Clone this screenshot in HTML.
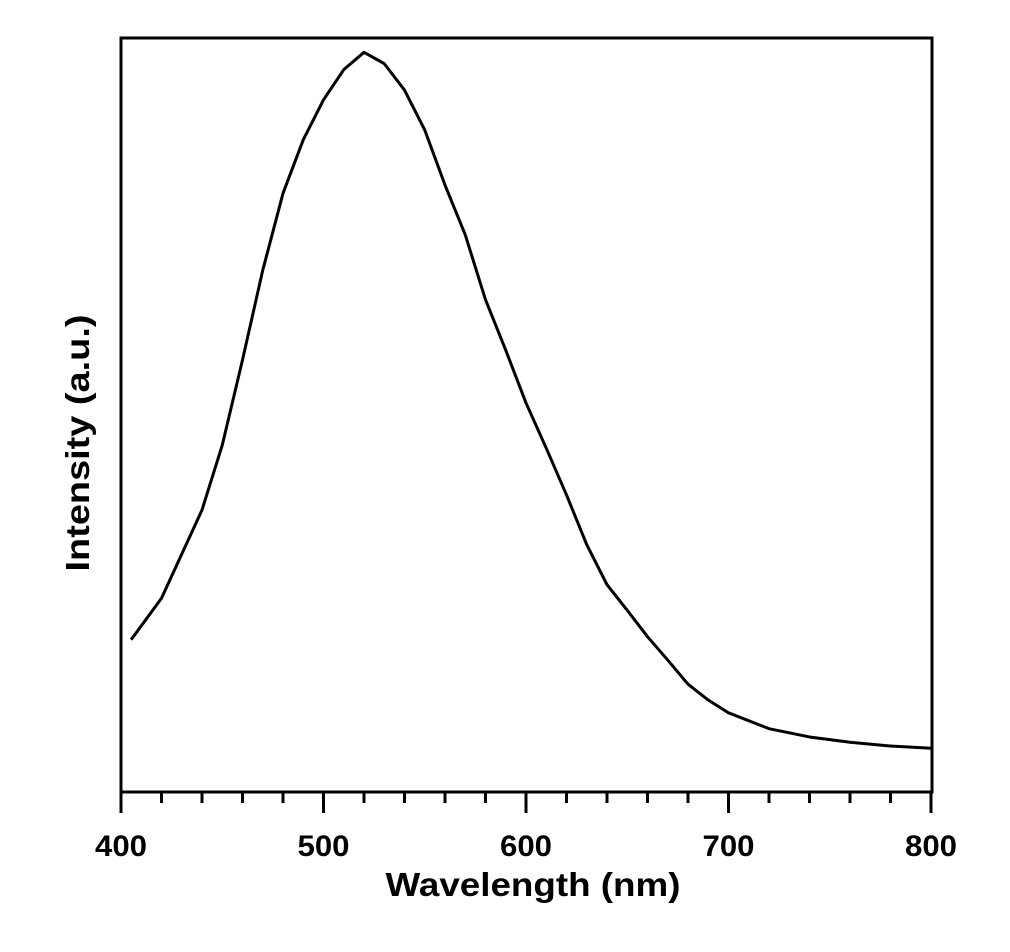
<!DOCTYPE html>
<html><head><meta charset="utf-8"><style>
html,body{margin:0;padding:0;background:#fff;}
svg{display:block;font-family:"Liberation Sans",Arial,sans-serif;font-weight:bold;}
</style></head><body>
<svg id="chart" width="1010" height="952" viewBox="0 0 1010 952" xmlns="http://www.w3.org/2000/svg">
<rect x="121" y="38" width="811" height="754" fill="none" stroke="#000" stroke-width="3"/>
<g id="ticks"></g>
<g id="labels"></g>
<polyline id="curve" fill="none" stroke="#000" stroke-width="3" stroke-linejoin="round"/>
<text x="533" y="896" font-size="33" text-anchor="middle" textLength="295" lengthAdjust="spacingAndGlyphs">Wavelength (nm)</text>
<text transform="translate(89,443) rotate(-90)" font-size="33" text-anchor="middle" textLength="257" lengthAdjust="spacingAndGlyphs">Intensity (a.u.)</text>
</svg>
<script>
const wavelengths=[405,420,440,450,460,470,480,490,500,510,520,530,540,550,560,570,580,590,600,610,620,630,640,650,660,670,680,690,700,720,740,760,780,800];
const intensity=[20.2,25.7,37.4,46.0,57.3,69.2,79.4,86.5,91.8,95.8,98.1,96.6,93.1,87.8,80.5,73.9,65.3,58.6,51.6,45.6,39.4,32.8,27.5,24.1,20.6,17.5,14.3,12.2,10.5,8.4,7.3,6.6,6.1,5.8];
const tickLabels=[400,500,600,700,800];
const xMin=400,xMax=800,yMin=0,yMax=100;
const L=121,R=931,T=38,B=792;
const xs=v=>L+(v-xMin)/(xMax-xMin)*(R-L);
const ys=v=>B-(v-yMin)/(yMax-yMin)*(B-T);
const NS="http://www.w3.org/2000/svg";
const tg=document.getElementById('ticks'),lg=document.getElementById('labels');
for(let w=xMin;w<=xMax;w+=20){
  const l=document.createElementNS(NS,'line');
  const major=w%100===0;
  l.setAttribute('x1',xs(w));l.setAttribute('x2',xs(w));
  l.setAttribute('y1',B);l.setAttribute('y2',B+(major?21:11));
  l.setAttribute('stroke','#000');l.setAttribute('stroke-width','3');
  
  
  tg.appendChild(l);
}
tickLabels.forEach(v=>{
  const t=document.createElementNS(NS,'text');
  t.setAttribute('x',xs(v));t.setAttribute('y',856);
  t.setAttribute('text-anchor','middle');t.setAttribute('font-size','30');
  t.setAttribute('textLength','52');t.setAttribute('lengthAdjust','spacingAndGlyphs');
  t.textContent=v;
  
  
  lg.appendChild(t);
});
document.getElementById('curve').setAttribute('points',wavelengths.map((w,i)=>xs(w)+','+ys(intensity[i])).join(' '));
</script>
</body></html>
